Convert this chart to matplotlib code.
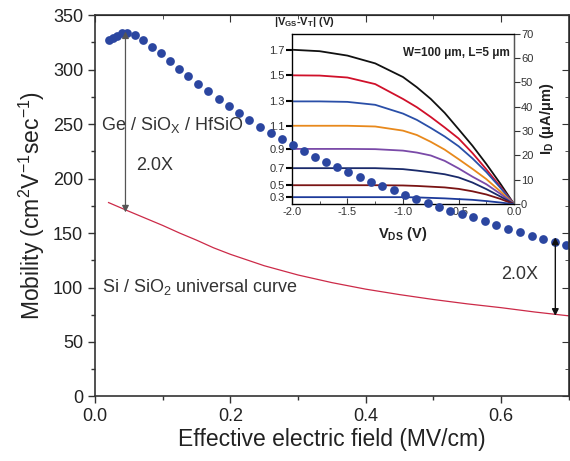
import numpy as np
import matplotlib.pyplot as plt
from matplotlib.ticker import MultipleLocator, FormatStrFormatter

plt.rcParams['font.family'] = ['Liberation Sans', 'DejaVu Sans']
plt.rcParams['mathtext.default'] = 'regular'
plt.rcParams['axes.unicode_minus'] = False

# main plot: Ge / SiOx / HfSiO mobility (dots)
ge_field = [0.0207, 0.0267, 0.0326, 0.040, 0.0474, 0.0593, 0.0711, 0.0844, 0.0978, 0.111,
            0.1244, 0.1378, 0.1526, 0.1674, 0.1837, 0.1985, 0.2133, 0.2281, 0.2444, 0.2593,
            0.2756, 0.2919, 0.3081, 0.3244, 0.3407, 0.357, 0.3733, 0.3911, 0.4074, 0.4237,
            0.4415, 0.4578, 0.4741, 0.4919, 0.5081, 0.5244, 0.5422, 0.5585, 0.5763, 0.5926,
            0.6104, 0.6281, 0.6459, 0.6622, 0.68, 0.6963]
ge_mob = [327.4, 329.2, 331.1, 333.8, 333.8, 332.0, 327.4, 321.0, 315.5, 308.2,
          300.8, 294.4, 287.1, 280.7, 273.4, 267.0, 260.6, 254.2, 247.7, 242.2,
          236.7, 231.2, 225.7, 220.2, 215.6, 211.1, 206.5, 201.9, 197.3, 192.8,
          189.1, 184.5, 180.9, 177.2, 173.5, 169.9, 167.1, 164.4, 160.7, 157.1,
          153.4, 150.6, 147.0, 144.2, 141.5, 138.7]

# Si / SiO2 universal curve
si_field = [0.02, 0.035, 0.05, 0.075, 0.1, 0.125, 0.15, 0.175, 0.2, 0.25, 0.3, 0.35, 0.4,
            0.45, 0.5, 0.55, 0.6, 0.65, 0.7]
si_mob = [178, 174, 170, 163.5, 157, 150, 143.5, 136.5, 130.5, 120, 111.5, 104.5, 98.5,
          93.5, 89, 85, 81.5, 77.5, 74]

# inset: ID-VDS curves
vds = [-2.0, -1.75, -1.5, -1.25, -1.0, -0.875, -0.75, -0.625, -0.5, -0.375, -0.25, -0.125, 0.0]
vov_labels = ['1.7', '1.5', '1.3', '1.1', '0.9', '0.7', '0.5', '0.3']
id_curves = [
    [63.4, 62.8, 61.0, 57.8, 52.2, 48.0, 43.2, 37.5, 30.8, 24.0, 16.5, 8.5, 0],
    [52.9, 52.8, 52.0, 49.3, 43.2, 39.8, 35.8, 31.5, 27.0, 21.0, 14.3, 7.3, 0],
    [42.2, 42.2, 42.0, 40.8, 37.2, 34.6, 31.3, 27.8, 23.8, 18.8, 13.2, 6.8, 0],
    [32.2, 32.2, 32.2, 31.9, 30.2, 28.4, 25.6, 22.4, 18.5, 14.5, 10.3, 5.3, 0],
    [22.7, 22.7, 22.7, 22.6, 22.0, 21.2, 20.0, 17.8, 14.7, 11.3, 8.2, 4.3, 0],
    [14.8, 14.8, 14.8, 14.8, 14.4, 13.8, 13.1, 12.3, 11.0, 8.9, 6.2, 3.2, 0],
    [7.8, 7.8, 7.8, 7.8, 7.7, 7.5, 7.2, 6.9, 6.3, 5.3, 4.0, 2.2, 0],
    [2.9, 2.9, 2.9, 2.9, 2.9, 2.8, 2.6, 2.4, 2.1, 1.8, 1.3, 0.7, 0],
]
curve_colors = ['#111111', '#d0102a', '#2a4fa8', '#e8891c', '#7a4aa8', '#1a2a6a', '#7a1414', '#1c3a9a']

fig = plt.figure(figsize=(5.7, 4.61), dpi=100)
ax = fig.add_axes([0.1667, 0.140, 0.8313, 0.827])
axin = fig.add_axes([0.512, 0.557, 0.390, 0.370])
ax.set_zorder(2)
axin.set_zorder(1)
ax.patch.set_visible(False)

spine_c = '#333333'
ax.plot(si_field, si_mob, color='#cc2a48', lw=0.9)
ax.plot(ge_field, ge_mob, 'o', color='#2b46a0', ms=6.3, mec='none')

ax.set_xlim(0, 0.7)
ax.set_ylim(0, 350)
ax.xaxis.set_major_locator(MultipleLocator(0.2))
ax.xaxis.set_minor_locator(MultipleLocator(0.1))
ax.yaxis.set_major_locator(MultipleLocator(50))
ax.yaxis.set_minor_locator(MultipleLocator(25))
ax.tick_params(which='both', direction='out', top=False, right=False, colors=spine_c,
               labelsize=13, labelcolor='#222222')
ax.tick_params(which='major', length=5, width=1)
ax.tick_params(which='minor', length=3, width=1)
for s in ax.spines.values():
    s.set_color(spine_c)
    s.set_linewidth(1.2)
# inward ticks on top and right
ax_top = ax.secondary_xaxis('top')
ax_top.xaxis.set_major_locator(MultipleLocator(0.2))
ax_top.xaxis.set_minor_locator(MultipleLocator(0.1))
ax_top.tick_params(which='both', direction='in', labeltop=False, colors=spine_c)
ax_top.tick_params(which='major', length=5)
ax_top.tick_params(which='minor', length=3)
ax_right = ax.secondary_yaxis('right')
ax_right.yaxis.set_major_locator(MultipleLocator(50))
ax_right.yaxis.set_minor_locator(MultipleLocator(25))
ax_right.tick_params(which='both', direction='in', labelright=False, colors=spine_c)
ax_right.tick_params(which='major', length=5)
ax_right.tick_params(which='minor', length=3)

ax.set_xlabel('Effective electric field (MV/cm)', fontsize=16.5, color='#222222', labelpad=2)
ax.set_ylabel('Mobility (cm$^2$V$^{-1}$sec$^{-1}$)', fontsize=16.5, color='#222222', labelpad=4)

ax.annotate('', xy=(0.045, 335), xytext=(0.045, 169),
            arrowprops=dict(arrowstyle='<|-|>', color='#555555', lw=0.9,
                            mutation_scale=10, shrinkA=0, shrinkB=0))
ax.annotate('', xy=(0.68, 146), xytext=(0.68, 74),
            arrowprops=dict(arrowstyle='<|-|>', color='#111111', lw=1.0,
                            mutation_scale=10, shrinkA=0, shrinkB=0))
ax.text(0.0085, 245, 'Ge / SiO$_X$ / HfSiO', fontsize=13, color='#333333')
ax.text(0.06, 208, '2.0X', fontsize=13, color='#333333')
ax.text(0.011, 96, 'Si / SiO$_2$ universal curve', fontsize=13, color='#333333')
ax.text(0.6, 108, '2.0X', fontsize=13, color='#333333')

# inset
for ys, c in zip(id_curves, curve_colors):
    axin.plot(vds, ys, color=c, lw=1.3)
axin.set_xlim(-2.0, 0.0)
axin.set_ylim(0, 70)
axin.xaxis.set_major_locator(MultipleLocator(0.5))
axin.xaxis.set_minor_locator(MultipleLocator(0.25))
axin.xaxis.set_major_formatter(FormatStrFormatter('%.1f'))
axin.tick_params(axis='x', which='both', direction='in', labelsize=8, colors='#333333', pad=2)
axin.tick_params(axis='x', which='major', length=4)
axin.tick_params(axis='x', which='minor', length=2)
axin.set_yticks([ys[0] for ys in id_curves])
axin.set_yticklabels(vov_labels)
axin.tick_params(axis='y', direction='out', length=4, width=1.5, labelsize=8,
                 labelcolor='#333333', pad=1)
for t, c in zip(axin.yaxis.get_ticklines()[0::2], curve_colors):
    t.set_color(c)
for s in axin.spines.values():
    s.set_color('#555555')
    s.set_linewidth(1.0)
axin.set_xlabel('V$_{DS}$ (V)', fontsize=10.5, fontweight='bold', color='#222222', labelpad=6)
axr = axin.twinx()
axr.set_ylim(0, 70)
axr.yaxis.set_major_locator(MultipleLocator(10))
axr.tick_params(axis='y', direction='out', length=4, labelsize=8, colors='#333333', pad=1)
axr.spines['right'].set_color('#555555')
axr.set_ylabel('I$_D$ (\u03bcA/\u03bcm)', fontsize=10.5, fontweight='bold', color='#222222', labelpad=3)
axin.text(-0.08, 1.03, '|V$_{GS}$-V$_T$| (V)', fontsize=8, fontweight='bold', color='#222222',
          ha='left', va='bottom', transform=axin.transAxes)
axin.text(-0.04, 62, 'W=100 \u03bcm, L=5 \u03bcm', fontsize=8.5, fontweight='bold',
          color='#222222', ha='right', va='center')

fig.savefig('out.png', dpi=100)
